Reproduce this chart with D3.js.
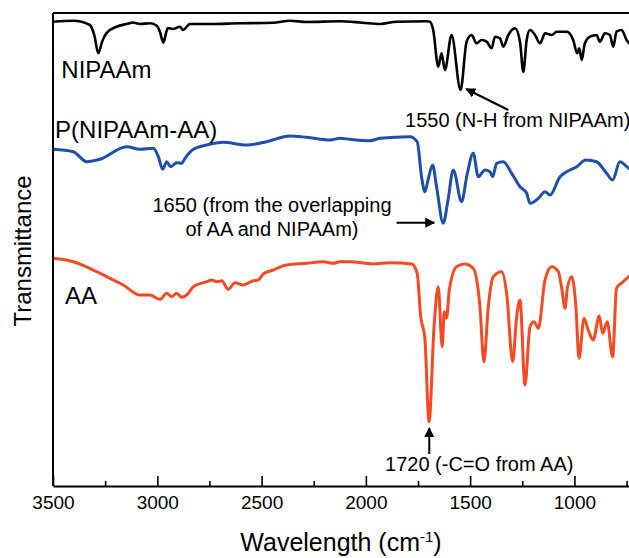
<!DOCTYPE html>
<html>
<head>
<meta charset="utf-8">
<script src="https://cdn.jsdelivr.net/npm/d3@7"></script>
<style>
  body { margin: 0; background: #fff; }
  svg { display: block; font-family: "Liberation Sans", Arial, sans-serif; }
</style>
</head>
<body>
<script>
// FTIR spectra, wavenumber (cm-1) and transmittance (arbitrary units, traces stacked)
var nipaamWave = [3500, 3403, 3323, 3301, 3283, 3265, 3243, 3195, 3147, 3116, 3083, 3035, 3001, 2987, 2971, 2958, 2949, 2925, 2891, 2877, 2843, 2763, 2604, 2445, 2364, 2284, 2124, 2018, 1932, 1852, 1708, 1693, 1677, 1653, 1637, 1621, 1589, 1546, 1517, 1493, 1469, 1445, 1421, 1397, 1381, 1357, 1341, 1317, 1285, 1261, 1245, 1229, 1213, 1189, 1165, 1141, 1109, 1085, 1037, 1006, 987, 977, 965, 950, 926, 894, 878, 854, 830, 814, 798, 774, 750, 739, 720];
var nipaamT = [464.3, 465.3, 461, 450, 432.7, 444, 453, 459.3, 462, 463.5, 462, 462.7, 460, 454, 443.3, 453, 458, 457, 459.3, 456, 462, 462, 462.7, 463.3, 465.3, 464, 464.7, 463.3, 462, 464.3, 464.8, 464.3, 456, 419.3, 432.7, 416, 451, 396, 444.3, 451, 442.7, 446, 444.3, 437.7, 449.3, 447.7, 439.3, 451, 457.7, 444.3, 414.3, 446, 456, 451, 442.7, 452.7, 451, 454.3, 454.3, 446, 432.7, 437.7, 426, 442.7, 449.3, 451, 444.3, 452.7, 451, 439.3, 454.3, 456, 446, 443, 441];

var copolyWave = [3500, 3403, 3338, 3275, 3147, 3083, 3019, 2995, 2974, 2955, 2936, 2907, 2883, 2867, 2827, 2763, 2684, 2571, 2476, 2364, 2284, 2172, 2124, 2076, 1980, 1932, 1789, 1754, 1733, 1717, 1702, 1680, 1661, 1629, 1606, 1581, 1541, 1515, 1485, 1461, 1429, 1405, 1392, 1373, 1341, 1301, 1261, 1229, 1213, 1173, 1141, 1117, 1069, 1037, 989, 945, 894, 846, 817, 782, 739, 720];
var copolyT = [336.7, 334.3, 324.3, 326.7, 339.3, 336.7, 337.7, 329.3, 316.7, 324.3, 319.3, 323.3, 322.7, 327.7, 336.7, 341, 343.7, 341, 344.3, 350, 348.7, 346, 347.7, 346.7, 345.3, 347.7, 349.3, 344.3, 309.3, 294.3, 306, 321, 299.3, 262.7, 286, 316, 284.3, 311, 332.7, 309.3, 316, 314.3, 309.3, 322.7, 324.3, 312.7, 299.3, 292.7, 282.7, 287.7, 294.3, 291, 309.3, 314.3, 319.3, 326, 324.3, 312.7, 306, 324.3, 317.7, 316];

var aaWave = [3500, 3403, 3323, 3243, 3163, 3083, 3035, 2987, 2955, 2931, 2907, 2883, 2859, 2827, 2763, 2739, 2715, 2691, 2660, 2627, 2588, 2540, 2516, 2492, 2444, 2380, 2284, 2204, 2156, 2124, 2076, 1964, 1884, 1780, 1754, 1737, 1717, 1697, 1673, 1653, 1634, 1624, 1613, 1600, 1565, 1525, 1485, 1453, 1434, 1413, 1389, 1349, 1325, 1296, 1277, 1261, 1237, 1213, 1194, 1173, 1141, 1109, 1077, 1061, 1045, 1034, 1013, 993, 978, 954, 934, 910, 881, 865, 843, 817, 798, 766, 739, 720];
var aaT = [227.7, 224.3, 217.7, 209.3, 201, 191, 191, 186.7, 192.7, 189.3, 192.7, 188.7, 191, 199.3, 204.3, 206, 204.3, 205.3, 196.7, 203.3, 201, 205.3, 206, 212, 216, 221, 222.7, 224.3, 222.7, 224.3, 224.3, 222, 223.3, 222, 212.7, 169.3, 147.7, 64.3, 159.3, 199.3, 139.3, 174.3, 167.7, 196, 219.3, 222, 217.7, 179.3, 124.3, 179.3, 209.3, 214.3, 192.7, 124.3, 169.3, 186, 101, 159.3, 164.3, 157.7, 206, 219.3, 214.3, 197.7, 177.7, 197.7, 209.3, 179.3, 127.7, 167.7, 156, 146, 170, 152.7, 164.3, 129.3, 197.7, 204.3, 209.3, 212];

var majorTicks = [3500, 3000, 2500, 2000, 1500, 1000];
var minorTicks = [3250, 2750, 2250, 1750, 1250, 750];

var width = 629;
var height = 558;

var x = d3.scaleLinear().domain([3500, 700]).range([53, 637]);
var y = d3.scaleLinear().domain([0, 473]).range([486, 13]);

var svg = d3.select("body").append("svg")
    .attr("width", width)
    .attr("height", height);

// spectra
var series = [
  { name: "NIPAAm", wave: nipaamWave, t: nipaamT, color: "#000000", w: 2.6 },
  { name: "P(NIPAAm-AA)", wave: copolyWave, t: copolyT, color: "#1f4fa6", w: 3 },
  { name: "AA", wave: aaWave, t: aaT, color: "#f24a22", w: 3 }
];

var line = d3.line()
    .x(function(d) { return x(d[0]); })
    .y(function(d) { return y(d[1]); })
    .curve(d3.curveMonotoneX);

svg.append("g")
  .selectAll("path")
  .data(series)
  .enter().append("path")
    .attr("d", function(s) { return line(d3.zip(s.wave, s.t)); })
    .attr("fill", "none")
    .attr("stroke", function(s) { return s.color; })
    .attr("stroke-width", function(s) { return s.w; })
    .attr("stroke-linejoin", "round");

// frame: top line and left axis
svg.append("line")
    .attr("x1", x(3500)).attr("x2", x(700))
    .attr("y1", y(473)).attr("y2", y(473))
    .attr("stroke", "#000").attr("stroke-width", 2);
svg.append("line")
    .attr("x1", x(3500)).attr("x2", x(3500))
    .attr("y1", y(473)).attr("y2", y(0))
    .attr("stroke", "#000").attr("stroke-width", 2);

// bottom axis, ticks pointing inward
var xAxis = svg.append("g")
    .attr("transform", "translate(0," + y(0) + ")")
    .call(d3.axisBottom(x).tickValues(majorTicks).tickSizeInner(-10).tickSizeOuter(0).tickPadding(10).tickFormat(d3.format("d")));
xAxis.select(".domain").attr("stroke-width", 2);
xAxis.selectAll(".tick line").attr("stroke-width", 1.6);
xAxis.selectAll("text")
    .attr("font-size", 19)
    .attr("font-family", "Liberation Sans, Arial, sans-serif")
    .attr("fill", "#000");

var xMinor = svg.append("g")
    .attr("transform", "translate(0," + y(0) + ")")
    .call(d3.axisBottom(x).tickValues(minorTicks).tickSizeInner(-5).tickSizeOuter(0).tickFormat(""));
xMinor.select(".domain").remove();
xMinor.selectAll(".tick line").attr("stroke-width", 1.6);

// axis titles
svg.append("text")
    .attr("x", 341)
    .attr("y", 551)
    .attr("text-anchor", "middle")
    .attr("font-size", 25)
    .html("Wavelength (cm<tspan dy='-9' font-size='15'>-1</tspan><tspan dy='9'>)</tspan>");

svg.append("text")
    .attr("transform", "translate(31," + 251 + ") rotate(-90)")
    .attr("text-anchor", "middle")
    .attr("font-size", 24)
    .text("Transmittance");

// trace labels
var labels = [
  { text: "NIPAAm", w: 3460, t: 407.7 },
  { text: "P(NIPAAm-AA)", w: 3490, t: 347.7 },
  { text: "AA", w: 3442, t: 182 }
];
svg.append("g")
  .selectAll("text")
  .data(labels)
  .enter().append("text")
    .attr("x", function(d) { return x(d.w); })
    .attr("y", function(d) { return y(d.t); })
    .attr("font-size", 24)
    .text(function(d) { return d.text; });

// annotations with arrows
svg.append("defs").append("marker")
    .attr("id", "head")
    .attr("viewBox", "0 0 10 10")
    .attr("refX", 9).attr("refY", 5)
    .attr("markerWidth", 5).attr("markerHeight", 5)
    .attr("orient", "auto")
  .append("path")
    .attr("d", "M0,0L10,5L0,10z")
    .attr("fill", "#000");

var arrows = [
  { w0: 1317, t0: 376, w1: 1519, t1: 397 },
  { w0: 1853, t0: 263.3, w1: 1672, t1: 263.3 },
  { w0: 1696, t0: 32, w1: 1696, t1: 58 }
];
svg.append("g")
  .selectAll("line")
  .data(arrows)
  .enter().append("line")
    .attr("x1", function(d) { return x(d.w0); })
    .attr("y1", function(d) { return y(d.t0); })
    .attr("x2", function(d) { return x(d.w1); })
    .attr("y2", function(d) { return y(d.t1); })
    .attr("stroke", "#000")
    .attr("stroke-width", 2)
    .attr("marker-end", "url(#head)");

var notes = [
  { text: "1550 (N-H from NIPAAm)", w: 1812, t: 359, anchor: "start" },
  { text: "1650 (from the overlapping", w: 2450, t: 274.3, anchor: "middle" },
  { text: "of AA and NIPAAm)", w: 2450, t: 250, anchor: "middle" },
  { text: "1720 (-C=O from AA)", w: 1908, t: 15, anchor: "start" }
];
svg.append("g")
  .selectAll("text")
  .data(notes)
  .enter().append("text")
    .attr("x", function(d) { return x(d.w); })
    .attr("y", function(d) { return y(d.t); })
    .attr("text-anchor", function(d) { return d.anchor; })
    .attr("font-size", 20)
    .text(function(d) { return d.text; });
</script>
</body>
</html>
